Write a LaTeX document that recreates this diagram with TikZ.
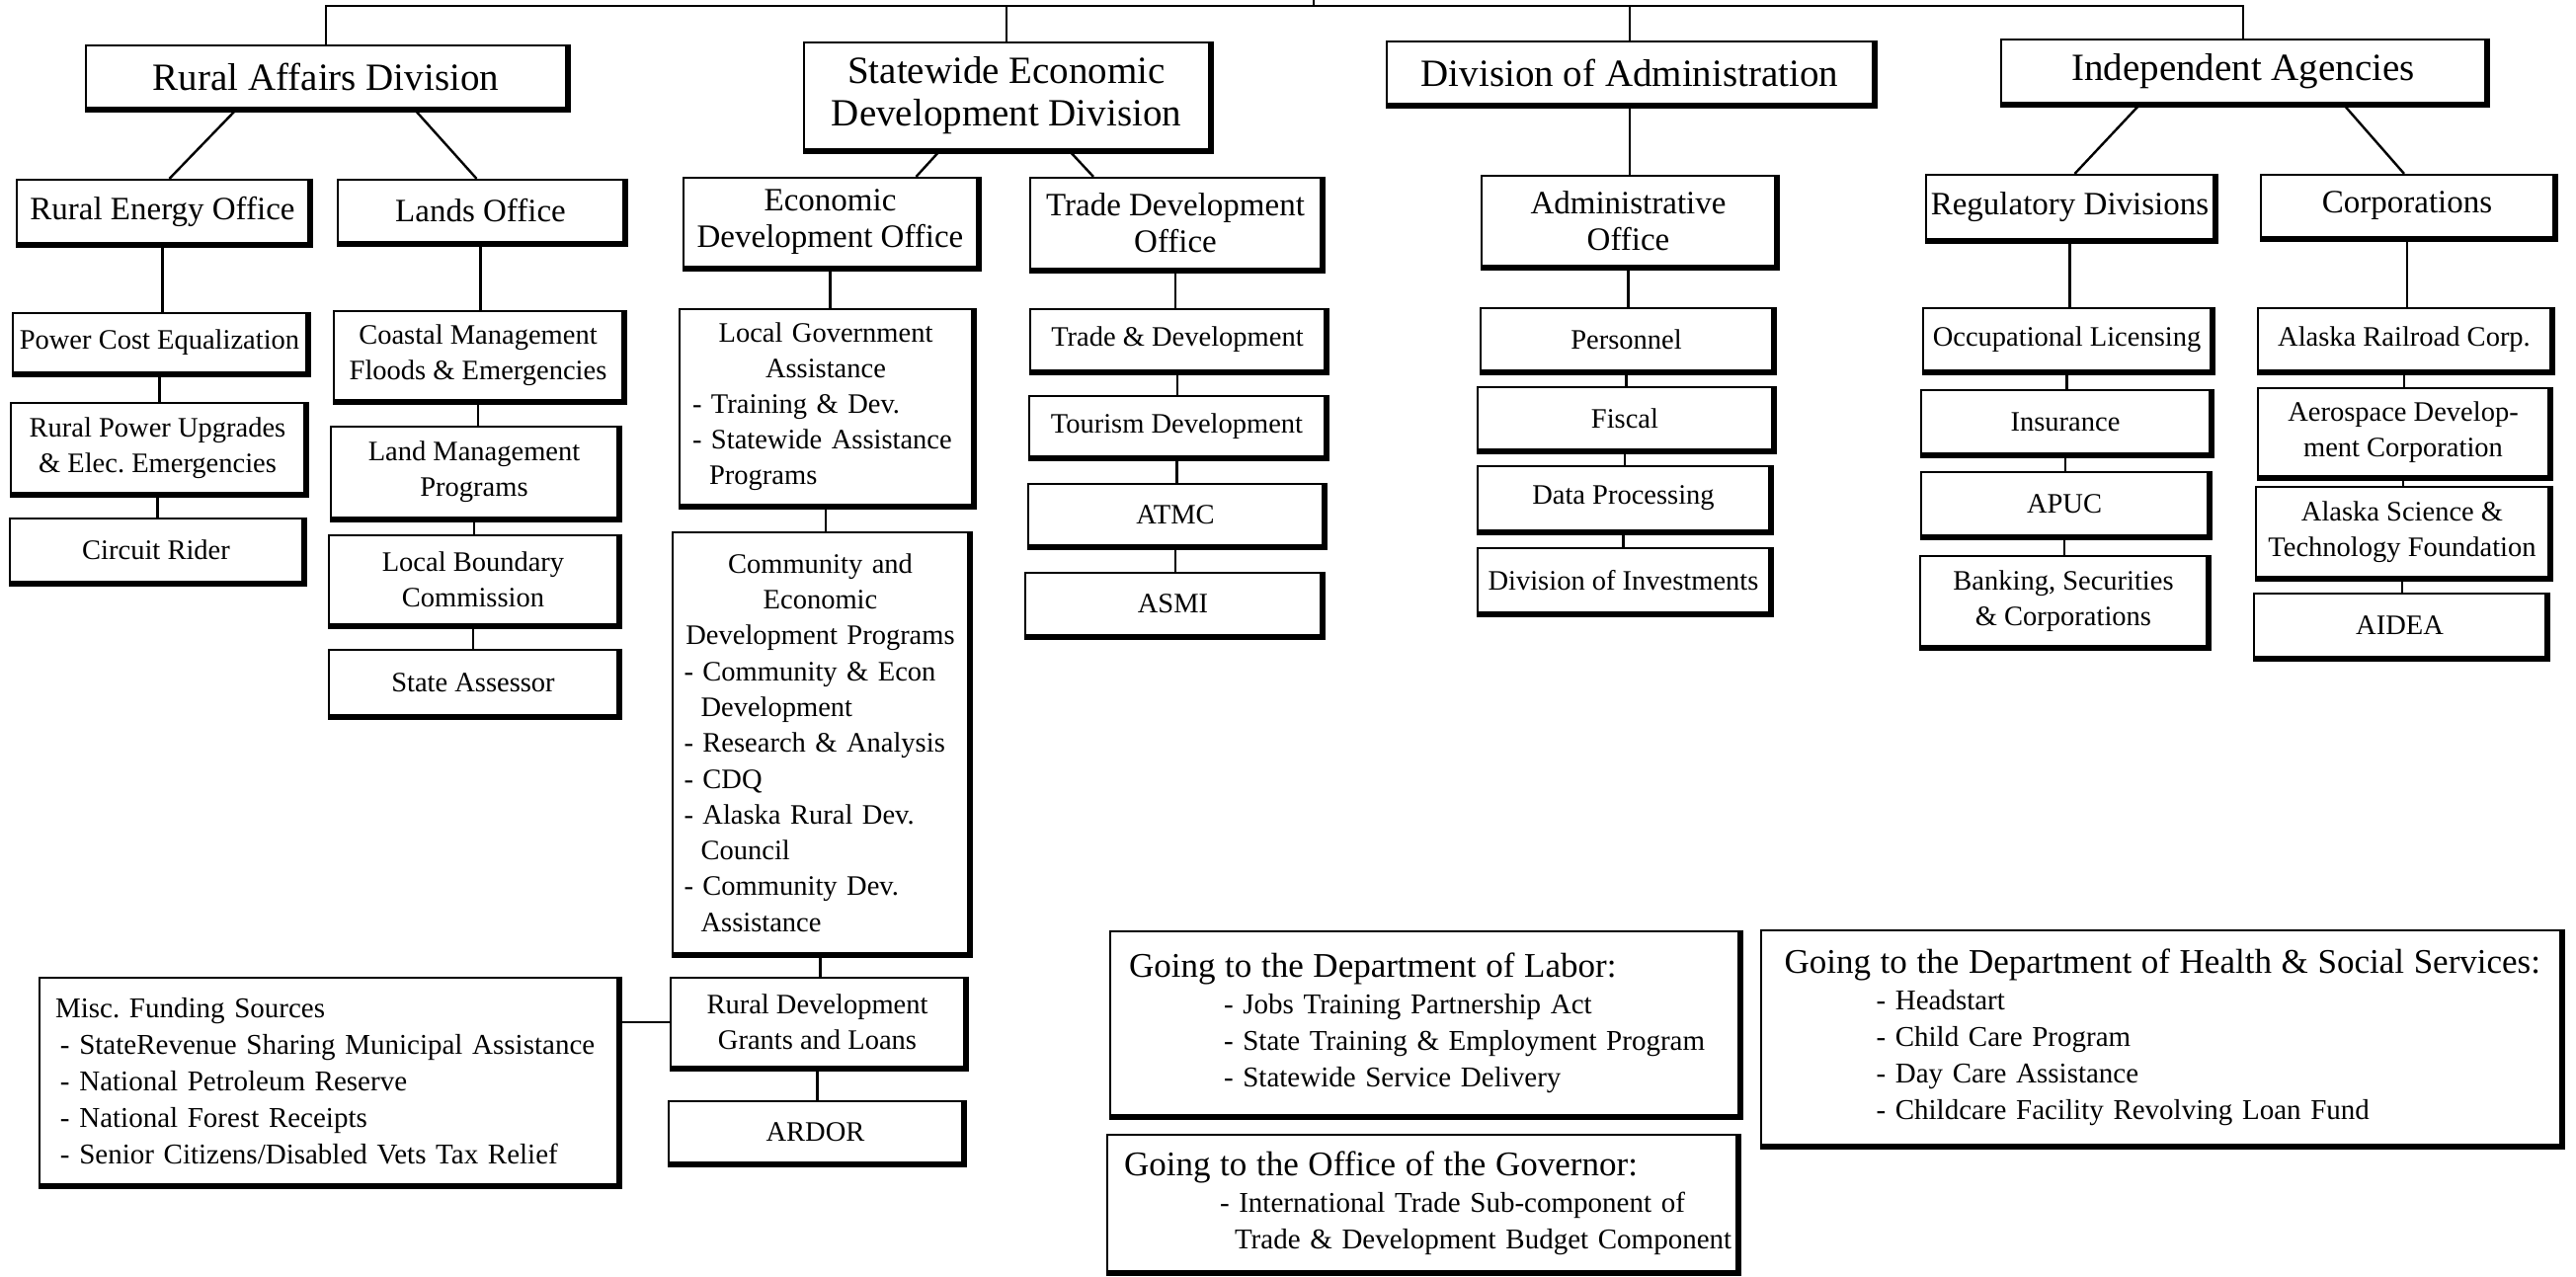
\documentclass[tikz,border=0pt]{standalone}
\usepackage{fontspec}
\setmainfont{Liberation Serif}
\usetikzlibrary{calc}
\frenchspacing
\newcommand{\mkbox}[7][]{%
  \node[box,#1,minimum width={(#5-#3-3)*1pt},minimum height={(#6-#4-3)*1pt}] (#2) at ({(#3+#5-3)/2},{(#4+#6-3)/2}) {#7};}
\tikzset{
  box/.style={draw, line width=2.2pt, fill=white, inner sep=3pt, align=center, execute at begin node=\frenchspacing},
  lone/.style={font=\fontsize{39}{43}\selectfont},
  ltwo/.style={font=\fontsize{33}{37}\selectfont},
  lthree/.style={font=\fontsize{28.5}{36}\selectfont},
  lbot/.style={font=\fontsize{29}{37}\selectfont, align=left},
  conn/.style={line width=2.4pt},
  shade/.style={line width=6pt, line join=miter},
}
\begin{document}
\begin{tikzpicture}[x=1pt,y=-1pt]
\useasboundingbox (0,0) rectangle (2608,1293);
% level 1
\mkbox[lone]{rad}{87}{46}{576}{112}{Rural Affairs Division}
\mkbox[lone]{sed}{814}{43}{1227}{154}{Statewide Economic\\Development Division}
\mkbox[lone]{doa}{1404}{42}{1899}{108}{Division of Administration}
\mkbox[lone]{ia}{2026}{40}{2519}{107}{Independent Agencies}
% level 2
\mkbox[ltwo]{reo}{17}{182}{315}{249}{Rural Energy Office}
\mkbox[ltwo]{lo}{342}{182}{634}{248}{Lands Office}
\mkbox[ltwo]{edo}{692}{180}{992}{273}{Economic\\Development Office}
\mkbox[ltwo]{tdo}{1043}{180}{1340}{275}{Trade Development\\Office}
\mkbox[ltwo]{ao}{1500}{178}{1800}{272}{Administrative\\Office}
\mkbox[ltwo]{rd}{1950}{177}{2244}{245}{Regulatory Divisions}
\mkbox[ltwo]{corp}{2289}{177}{2588}{243}{Corporations}
% rural energy
\mkbox[lthree]{pce}{13}{317}{313}{380}{Power Cost Equalization}
\mkbox[lthree]{rpu}{11}{408}{311}{502}{Rural Power Upgrades\\\& Elec. Emergencies}
\mkbox[lthree]{cr}{10}{525}{309}{592}{Circuit Rider}
% lands
\mkbox[lthree]{cm}{338}{315}{633}{408}{Coastal Management\\Floods \& Emergencies}
\mkbox[lthree]{lmp}{335}{432}{628}{527}{Land Management\\Programs}
\mkbox[lthree]{lbc}{333}{542}{628}{635}{Local Boundary\\Commission}
\mkbox[lthree]{sa}{333}{658}{628}{727}{State Assessor}
% economic development
\mkbox[lthree, text width=270pt, align=left]{lga}{688}{313}{987}{514}{%
{\centering Local Government\\Assistance\par}
- Training \& Dev.\\
- Statewide Assistance\\
\hspace*{0.6em}Programs}
\mkbox[font=\fontsize{28.5}{36.3}\selectfont, text width=276pt, align=left]{ced}{681}{539}{983}{968}{%
{\centering Community and\\Economic\\Development Programs\par}
- Community \& Econ\\
\hspace*{0.6em}Development\\
- Research \& Analysis\\
- CDQ\\
- Alaska Rural Dev.\\
\hspace*{0.6em}Council\\
- Community Dev.\\
\hspace*{0.6em}Assistance}
\mkbox[lthree]{rdgl}{679}{990}{979}{1083}{Rural Development\\Grants and Loans}
\mkbox[lthree]{ardor}{677}{1115}{977}{1180}{ARDOR}
\mkbox[lbot, text width=553pt]{misc}{40}{990}{628}{1202}{%
Misc. Funding Sources\\
\mbox{\hspace*{5pt}- StateRevenue Sharing Municipal Assistance}\\
\mbox{\hspace*{5pt}- National Petroleum Reserve}\\
\mbox{\hspace*{5pt}- National Forest Receipts}\\
\mbox{\hspace*{5pt}- Senior Citizens/Disabled Vets Tax Relief}}
% trade development
\mkbox[lthree]{td}{1043}{313}{1344}{378}{Trade \& Development}
\mkbox[lthree]{tour}{1042}{401}{1344}{465}{Tourism Development}
\mkbox[lthree]{atmc}{1041}{490}{1342}{555}{ATMC}
\mkbox[lthree]{asmi}{1038}{580}{1340}{646}{ASMI}
% administration
\mkbox[lthree]{pers}{1499}{312}{1797}{378}{Personnel}
\mkbox[lthree]{fisc}{1496}{392}{1797}{458}{Fiscal}
\mkbox[lthree]{dp}{1496}{472}{1794}{540}{Data Processing}
\mkbox[lthree]{dinv}{1496}{555}{1794}{623}{Division of Investments}
% regulatory
\mkbox[lthree]{ol}{1947}{312}{2241}{378}{Occupational Licensing}
\mkbox[lthree]{ins}{1945}{395}{2240}{462}{Insurance}
\mkbox[lthree]{apuc}{1945}{478}{2238}{545}{APUC}
\mkbox[lthree]{bank}{1944}{563}{2237}{657}{Banking, Securities\\\& Corporations}
% corporations
\mkbox[lthree]{arr}{2286}{312}{2585}{378}{Alaska Railroad Corp.}
\mkbox[lthree]{aero}{2286}{393}{2583}{485}{Aerospace Develop-\\ment Corporation}
\mkbox[lthree]{asci}{2284}{493}{2583}{587}{Alaska Science \&\\Technology Foundation}
\mkbox[lthree]{aidea}{2282}{601}{2580}{668}{AIDEA}
% bottom boxes
\mkbox[lbot, text width=598pt]{lab}{1124}{943}{1763}{1132}{%
{\fontsize{35}{37}\selectfont Going to the Department of Labor:\par}
\mbox{\hspace*{96pt}- Jobs Training Partnership Act}\\
\mbox{\hspace*{96pt}- State Training \& Employment Program}\\
\mbox{\hspace*{96pt}- Statewide Service Delivery}}
\mkbox[lbot, text width=603pt]{gov}{1121}{1149}{1761}{1290}{%
{\fontsize{35}{37}\selectfont Going to the Office of the Governor:\par}
\mbox{\hspace*{97pt}- International Trade Sub-component of}\\
\mbox{\hspace*{112pt}Trade \& Development Budget Component}}
\mkbox[lbot, text width=762pt]{hss}{1783}{942}{2595}{1162}{%
{\fontsize{35}{37}\selectfont\mbox{Going to the Department of Health \& Social Services:}\par}
\mbox{\hspace*{93pt}- Headstart}\\
\mbox{\hspace*{93pt}- Child Care Program}\\
\mbox{\hspace*{93pt}- Day Care Assistance}\\
\mbox{\hspace*{93pt}- Childcare Facility Revolving Loan Fund}}
% top connectors
\coordinate (topbar) at (1330,6);
\coordinate (topstub) at (1330,0);
\draw[conn] (rad.north) |- (topbar) -| (ia.north);
\draw[conn] (sed.north) -- (sed.north |- topbar);
\draw[conn] (doa.north) -- (doa.north |- topbar);
\draw[conn] (topbar) -- (topstub);
% diagonal connectors
\draw[conn] ([xshift=-90pt]rad.south) -- ([xshift=7pt]reo.north);
\draw[conn] ([xshift=89pt]rad.south) -- ([xshift=-4pt]lo.north);
\draw[conn] ([xshift=-67pt]sed.south) -- ([xshift=87pt]edo.north);
\draw[conn] ([xshift=63pt]sed.south) -- ([xshift=-83pt]tdo.north);
\draw[conn] ([xshift=-104pt]ia.south) -- ([xshift=5pt]rd.north);
\draw[conn] ([xshift=101pt]ia.south) -- ([xshift=-3pt]corp.north);
% vertical chains
\foreach \a/\b in {reo/pce, pce/rpu, rpu/cr, lo/cm, cm/lmp, lmp/lbc, lbc/sa,
  edo/lga, lga/ced, ced/rdgl, rdgl/ardor, tdo/td, td/tour, tour/atmc, atmc/asmi,
  doa/ao, ao/pers, pers/fisc, fisc/dp, dp/dinv, rd/ol, ol/ins, ins/apuc, apuc/bank,
  corp/arr, arr/aero, aero/asci, asci/aidea}
  \draw[conn] (\a.south) -- (\a.south |- \b.north);
\draw[conn] (rdgl.west) -- (rdgl.west -| misc.east);
% heavy shadow edges
\foreach \n in {rad,sed,doa,ia,reo,lo,edo,tdo,ao,rd,corp,pce,rpu,cr,cm,lmp,lbc,sa,
  lga,ced,rdgl,ardor,misc,td,tour,atmc,asmi,pers,fisc,dp,dinv,ol,ins,apuc,bank,
  arr,aero,asci,aidea,lab,gov,hss}
  \draw[shade] ([xshift=1pt]\n.north east) -- ([xshift=1pt,yshift=-1pt]\n.south east) -- ([yshift=-1pt]\n.south west);
\end{tikzpicture}
\end{document}
